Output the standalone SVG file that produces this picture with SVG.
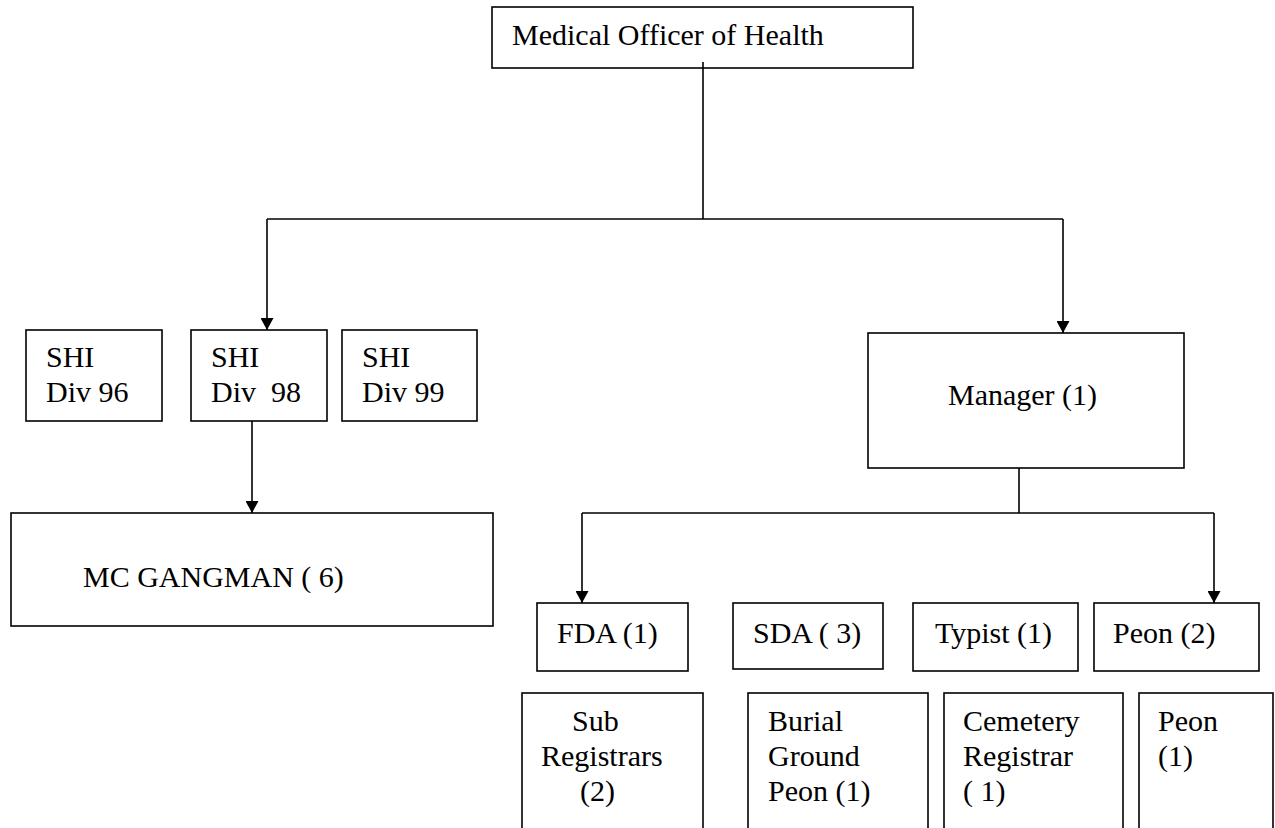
<svg xmlns="http://www.w3.org/2000/svg" width="1275" height="828" viewBox="0 0 1275 828">
  <style>
    .box { fill: #ffffff; stroke: #000000; stroke-width: 1.6; }
    .lbl { font-family: "Liberation Serif", "Times New Roman", serif; font-size: 30px; fill: #000000; }
    .conn { fill: none; stroke: #000000; stroke-width: 1.6; }
  </style>
  <defs>
    <marker id="arrow" viewBox="0 0 12 13" refX="12" refY="6.5" markerWidth="12" markerHeight="13" markerUnits="userSpaceOnUse" orient="auto">
      <path d="M0,0 L12,6.5 L0,13 z" fill="#000000"/>
    </marker>
  </defs>
  <rect width="1275" height="828" fill="#ffffff"/>

  <g id="moh">
    <rect class="box" x="492" y="7" width="421" height="61"/>
    <text class="lbl" x="512" y="45">Medical Officer of Health</text>
  </g>

  <g id="shi96">
    <rect class="box" x="26" y="330" width="136" height="91"/>
    <text class="lbl" x="46" y="367">SHI</text>
    <text class="lbl" x="46" y="402">Div 96</text>
  </g>
  <g id="shi98">
    <rect class="box" x="191" y="330" width="136" height="91"/>
    <text class="lbl" x="211" y="367">SHI</text>
    <text class="lbl" x="211" y="402" xml:space="preserve">Div  98</text>
  </g>
  <g id="shi99">
    <rect class="box" x="342" y="330" width="135" height="91"/>
    <text class="lbl" x="362" y="367">SHI</text>
    <text class="lbl" x="362" y="402">Div 99</text>
  </g>

  <g id="gangman">
    <rect class="box" x="11" y="513" width="482" height="113"/>
    <text class="lbl" x="83" y="587" xml:space="preserve">MC GANGMAN ( 6)</text>
  </g>

  <g id="manager">
    <rect class="box" x="868" y="333" width="316" height="135"/>
    <text class="lbl" x="948" y="405">Manager (1)</text>
  </g>

  <g id="fda">
    <rect class="box" x="537" y="603" width="151" height="68"/>
    <text class="lbl" x="557" y="643">FDA (1)</text>
  </g>
  <g id="sda">
    <rect class="box" x="733" y="603" width="150" height="66"/>
    <text class="lbl" x="753" y="643" xml:space="preserve">SDA ( 3)</text>
  </g>
  <g id="typist">
    <rect class="box" x="913" y="603" width="165" height="68"/>
    <text class="lbl" x="935" y="643">Typist (1)</text>
  </g>
  <g id="peon2">
    <rect class="box" x="1094" y="603" width="165" height="68"/>
    <text class="lbl" x="1113" y="643">Peon (2)</text>
  </g>

  <g id="subreg">
    <rect class="box" x="522" y="693" width="181" height="160"/>
    <text class="lbl" x="572" y="731">Sub</text>
    <text class="lbl" x="541" y="766">Registrars</text>
    <text class="lbl" x="580" y="801">(2)</text>
  </g>
  <g id="burial">
    <rect class="box" x="748" y="693" width="180" height="160"/>
    <text class="lbl" x="768" y="731">Burial</text>
    <text class="lbl" x="768" y="766">Ground</text>
    <text class="lbl" x="768" y="801">Peon (1)</text>
  </g>
  <g id="cemetery">
    <rect class="box" x="944" y="693" width="179" height="160"/>
    <text class="lbl" x="963" y="731">Cemetery</text>
    <text class="lbl" x="963" y="766">Registrar</text>
    <text class="lbl" x="963" y="801" xml:space="preserve">( 1)</text>
  </g>
  <g id="peon1">
    <rect class="box" x="1139" y="693" width="134" height="160"/>
    <text class="lbl" x="1158" y="731">Peon</text>
    <text class="lbl" x="1158" y="766">(1)</text>
  </g>

  <g id="connectors">
    <path class="conn" d="M703,62 V219"/>
    <path class="conn" d="M267,219 H1063"/>
    <path class="conn" d="M267,219 V330" marker-end="url(#arrow)"/>
    <path class="conn" d="M1063,219 V333" marker-end="url(#arrow)"/>
    <path class="conn" d="M252,421 V513" marker-end="url(#arrow)"/>
    <path class="conn" d="M1019,468 V513"/>
    <path class="conn" d="M582,513 H1214"/>
    <path class="conn" d="M582,513 V603" marker-end="url(#arrow)"/>
    <path class="conn" d="M1214,513 V603" marker-end="url(#arrow)"/>
  </g>
</svg>
